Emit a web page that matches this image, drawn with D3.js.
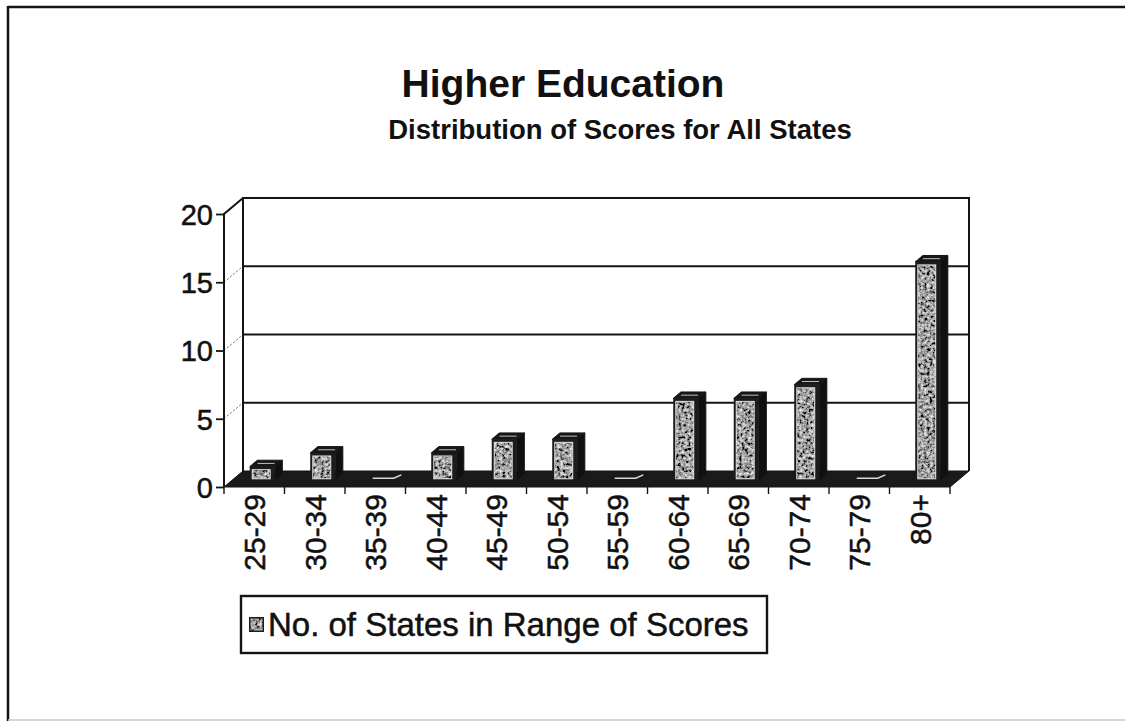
<!DOCTYPE html>
<html>
<head>
<meta charset="utf-8">
<script src="https://cdn.jsdelivr.net/npm/d3@7/dist/d3.min.js"></script>
<style>
  html, body { margin: 0; padding: 0; background: #fff; }
  svg { display: block; }
  text { font-family: "Liberation Sans", Arial, Helvetica, sans-serif; fill: #111; }
  .heavy { stroke: #111; stroke-width: 0.5px; }
</style>
</head>
<body>
<svg id="chart" width="1125" height="723"></svg>
<script>
// Score ranges and the number of states falling in each one
const scoreRanges = ["25-29", "30-34", "35-39", "40-44", "45-49", "50-54",
                     "55-59", "60-64", "65-69", "70-74", "75-79", "80+"];
const stateCounts = [1, 2, 0, 2, 3, 3, 0, 6, 6, 7, 0, 16];
const yTickValues = [0, 5, 10, 15, 20];
const titleText = "Higher Education";
const subtitleText = "Distribution of Scores for All States";
const seriesName = "No. of States in Range of Scores";

const svg = d3.select("#chart");
const ink = "#141414";

// Front plane of the 3-D plot box and the depth offset to the back wall
const frontLeft = 224, frontRight = 950, frontBottom = 487, frontTop = 214;
const DX = 19, DY = 16;

const x = d3.scaleBand().domain(scoreRanges).range([frontLeft, frontRight]).padding(0);
const y = d3.scaleLinear().domain([0, 20]).range([frontBottom, frontTop]);

// A point at a given value, x position and depth (0 = front, 1 = back)
const pt = (px, v, f) => [px + DX * f, y(v) - DY * f];

// ----- textures -----
const defs = svg.append("defs");
const grain = defs.append("filter").attr("id", "grain")
  .attr("x", 0).attr("y", 0).attr("width", 1).attr("height", 1)
  .attr("filterUnits", "objectBoundingBox");
grain.append("feTurbulence").attr("type", "fractalNoise")
  .attr("baseFrequency", 0.33).attr("numOctaves", 3).attr("seed", 11).attr("result", "noise");
grain.append("feColorMatrix").attr("in", "noise").attr("type", "matrix")
  .attr("values", "1.6 0 0 0 -0.46  1.6 0 0 0 -0.46  1.6 0 0 0 -0.46  0 0 0 0 1")
  .attr("result", "gray");
grain.append("feComposite").attr("in", "gray").attr("in2", "SourceGraphic").attr("operator", "in");

// ----- outer frame -----
svg.append("line").attr("x1", 8).attr("y1", 7).attr("x2", 1125).attr("y2", 7)
  .attr("stroke", ink).attr("stroke-width", 2.5);
svg.append("line").attr("x1", 8).attr("y1", 6).attr("x2", 8).attr("y2", 721)
  .attr("stroke", ink).attr("stroke-width", 2.5);
svg.append("line").attr("x1", 8).attr("y1", 720).attr("x2", 1125).attr("y2", 720)
  .attr("stroke", "#c8c8c8").attr("stroke-width", 1.5);

// ----- titles -----
svg.append("text").attr("x", 563).attr("y", 97).attr("text-anchor", "middle")
  .style("font-size", "39px").style("font-weight", "bold").text(titleText);
svg.append("text").attr("x", 620).attr("y", 139).attr("text-anchor", "middle")
  .style("font-size", "27.5px").style("font-weight", "bold").text(subtitleText);

// ----- walls -----
const walls = svg.append("g");
const bl = pt(frontLeft, 0, 1), br = pt(frontRight, 0, 1);
const tl = pt(frontLeft, 20, 1), tr = pt(frontRight, 20, 1);

// back wall gridlines
walls.selectAll(".grid").data(yTickValues.filter(v => v > 0 && v < 20)).join("line")
  .attr("x1", d => pt(frontLeft, d, 1)[0]).attr("y1", d => pt(frontLeft, d, 1)[1])
  .attr("x2", d => pt(frontRight, d, 1)[0]).attr("y2", d => pt(frontRight, d, 1)[1])
  .attr("stroke", ink).attr("stroke-width", 1.8);

// dotted lines across the side wall
walls.selectAll(".side").data(yTickValues.filter(v => v > 0 && v < 20)).join("line")
  .attr("x1", frontLeft).attr("y1", d => y(d))
  .attr("x2", d => pt(frontLeft, d, 1)[0]).attr("y2", d => pt(frontLeft, d, 1)[1])
  .attr("stroke", "#666").attr("stroke-width", 1).attr("stroke-dasharray", "2,2");

// back wall outline
walls.append("path")
  .attr("d", d3.line()([bl, tl, tr, br]))
  .attr("fill", "none").attr("stroke", ink).attr("stroke-width", 2);
// top edge of side wall and front axis line
walls.append("path")
  .attr("d", d3.line()([[frontLeft, y(0)], [frontLeft, y(20)], tl]))
  .attr("fill", "none").attr("stroke", ink).attr("stroke-width", 2);

// floor
walls.append("path")
  .attr("d", d3.line()([[frontLeft, y(0)], [frontRight, y(0)], br, bl]) + "Z")
  .attr("fill", "#1a1a1a").attr("stroke", ink).attr("stroke-width", 1);

// ----- bars -----
const f1 = 0.42, f2 = 0.82;        // depth span of each column
const faceW = 25;                   // width of the front face
const ddx = DX * (f2 - f1), ddy = DY * (f2 - f1);

const bars = svg.append("g").selectAll("g").data(scoreRanges.map((r, i) => ({ r, v: stateCounts[i] })))
  .join("g");

bars.each(function (d) {
  const g = d3.select(this);
  const cx = x(d.r) + x.bandwidth() / 2;
  const [x0, yt] = pt(cx - faceW / 2, d.v, f1);
  const yb = pt(cx, 0, f1)[1];
  const x1 = x0 + faceW;

  if (d.v === 0) {
    // an empty range leaves only a flat lid on the floor
    g.append("path")
      .attr("d", d3.line()([[x0 + 2, yb - 2], [x1 - 2, yb - 2], [x1 + ddx - 2, yb - ddy + 1]]))
      .attr("fill", "none").attr("stroke", "#d8d8d8").attr("stroke-width", 1.6);
    return;
  }
  // right side
  g.append("path")
    .attr("d", d3.line()([[x1, yt], [x1 + ddx, yt - ddy], [x1 + ddx, yb - ddy], [x1, yb]]) + "Z")
    .attr("fill", "#101010").attr("stroke", ink).attr("stroke-width", 1);
  // top
  g.append("path")
    .attr("d", d3.line()([[x0, yt], [x1, yt], [x1 + ddx, yt - ddy], [x0 + ddx, yt - ddy]]) + "Z")
    .attr("fill", "#181818").attr("stroke", ink).attr("stroke-width", 1);
  // lid highlight
  g.append("line")
    .attr("x1", x0 + ddx * 0.5 + 4).attr("x2", x1 + ddx * 0.5 - 4)
    .attr("y1", yt - ddy * 0.5).attr("y2", yt - ddy * 0.5)
    .attr("stroke", "#bdbdbd").attr("stroke-width", 1);
  // front face
  g.append("rect").attr("x", x0).attr("y", yt).attr("width", faceW).attr("height", yb - yt)
    .attr("fill", "#1c1c1c");
  g.append("rect").attr("x", x0 + 2).attr("y", yt + 2.5)
    .attr("width", faceW - 6).attr("height", Math.max(0, yb - yt - 3.5))
    .attr("fill", "#dcdcdc");
  g.append("rect").attr("x", x0 + 3).attr("y", yt + 3.5)
    .attr("width", faceW - 8).attr("height", Math.max(0, yb - yt - 5.5))
    .attr("fill", "#888").attr("filter", "url(#grain)");
});

// ----- axes -----
const yAxis = d3.axisLeft(y).tickValues(yTickValues).tickSize(8).tickPadding(3).tickSizeOuter(0);
const yG = svg.append("g").attr("transform", `translate(${frontLeft},0)`).call(yAxis);
yG.select(".domain").remove();
yG.selectAll("line").attr("stroke", ink).attr("stroke-width", 1.8);
yG.selectAll("text").attr("class", "heavy")
  .style("font-size", "29px").style("font-family", "'Liberation Sans', Arial, sans-serif")
  .attr("fill", ink).attr("dy", "0.36em");

const xAxis = d3.axisBottom(x).tickSize(0).tickPadding(0);
const xG = svg.append("g").attr("transform", `translate(0,${frontBottom})`).call(xAxis);
xG.select(".domain").remove();
xG.selectAll("text").attr("class", "heavy")
  .style("font-size", "30px").style("font-family", "'Liberation Sans', Arial, sans-serif")
  .attr("fill", ink)
  .attr("text-anchor", "end")
  .attr("transform", "rotate(-90)")
  .attr("x", -7).attr("y", 0).attr("dy", "0.36em");

// tick marks between categories along the front edge of the floor
svg.append("g").selectAll("line").data(d3.range(scoreRanges.length + 1)).join("line")
  .attr("x1", i => frontLeft + i * x.step()).attr("x2", i => frontLeft + i * x.step())
  .attr("y1", frontBottom).attr("y2", frontBottom + 7)
  .attr("stroke", ink).attr("stroke-width", 1.4);

// ----- legend -----
const lg = svg.append("g").attr("transform", "translate(241,596)");
lg.append("rect").attr("width", 526).attr("height", 57)
  .attr("fill", "#fff").attr("stroke", ink).attr("stroke-width", 2.4);
lg.append("rect").attr("x", 8).attr("y", 21).attr("width", 15).attr("height", 15)
  .attr("fill", "#1c1c1c");
lg.append("rect").attr("x", 9.5).attr("y", 22.5).attr("width", 12).attr("height", 12)
  .attr("fill", "#888").attr("filter", "url(#grain)");
lg.append("text").attr("class", "heavy").attr("x", 27).attr("y", 40)
  .style("font-size", "33px").text(seriesName);
</script>
</body>
</html>
